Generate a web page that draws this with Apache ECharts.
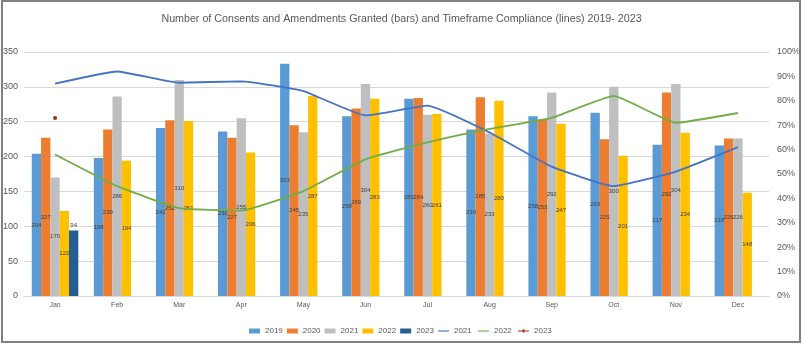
<!DOCTYPE html>
<html>
<head>
<meta charset="utf-8">
<script src="https://cdn.jsdelivr.net/npm/echarts@6/dist/echarts.min.js"></script>
<style>
  html, body { margin: 0; padding: 0; background: #fff; }
  #chart { width: 803px; height: 348px; }
</style>
</head>
<body>
<div id="chart"></div>
<script>
// Monthly categories
const months = ['Jan', 'Feb', 'Mar', 'Apr', 'May', 'Jun', 'Jul', 'Aug', 'Sep', 'Oct', 'Nov', 'Dec'];

// Consents and amendments granted per month (bars)
const granted2019 = [204, 198, 241, 236, 333, 258, 283, 239, 258, 263, 217, 216];
const granted2020 = [227, 239, 252, 227, 245, 269, 284, 285, 253, 225, 292, 226];
const granted2021 = [170, 286, 310, 255, 235, 304, 260, 233, 292, 300, 304, 226];
const granted2022 = [122, 194, 251, 206, 287, 283, 261, 280, 247, 201, 234, 148];
const granted2023 = [94, null, null, null, null, null, null, null, null, null, null, null];

// Timeframe compliance, percent (lines)
const compliance2021 = [87, 92, 87.4, 88, 84, 74, 78, 67, 53, 45, 51, 61];
const compliance2022 = [58, 45, 36, 35, 43, 56, 63, 68.5, 73, 82, 71, 75];
const compliance2023 = [73, null, null, null, null, null, null, null, null, null, null, null];

// Axis ticks
const countTicks = { min: 0, max: 350, interval: 50 };
const percentTicks = { min: 0, max: 100, interval: 10 };

const textColor = '#595959';
const gridColor = '#d9d9d9';

function barSeries(name, data, color, labelPos) {
  return {
    name: name,
    type: 'bar',
    data: data,
    yAxisIndex: 0,
    barGap: '0%',
    barCategoryGap: '25%',
    itemStyle: { color: color },
    label: {
      show: true,
      position: labelPos,
      fontSize: 6,
      color: '#404040',
      fontFamily: 'Liberation Sans',
      distance: 2
    }
  };
}

function lineSeries(name, data, color, withMarker) {
  return {
    name: name,
    type: 'line',
    data: data,
    yAxisIndex: 1,
    smooth: 0.12,
    symbol: withMarker ? 'circle' : 'none',
    symbolSize: 4,
    showSymbol: withMarker,
    lineStyle: { color: color, width: 1.8 },
    itemStyle: { color: color },
    z: 5
  };
}

const chart = echarts.init(document.getElementById('chart'), null, { renderer: 'canvas' });

chart.setOption({
  animation: false,
  backgroundColor: '#fff',
  textStyle: { fontFamily: 'Liberation Sans' },
  title: {
    text: 'Number of Consents and Amendments Granted (bars) and Timeframe Compliance (lines) 2019- 2023',
    left: 'center',
    top: 9,
    textStyle: { fontSize: 10.7, fontWeight: 'normal', color: textColor, fontFamily: 'Liberation Sans' }
  },
  legend: {
    bottom: 8,
    left: 'center',
    itemWidth: 11,
    itemHeight: 5,
    itemGap: 4,
    textStyle: { fontSize: 8, color: textColor },
    data: [
      { name: '2019', icon: 'rect' },
      { name: '2020', icon: 'rect' },
      { name: '2021', icon: 'rect' },
      { name: '2022', icon: 'rect' },
      { name: '2023', icon: 'rect' },
      { name: '2021 ', icon: 'path://M0,4 L20,4 L20,6 L0,6 Z' },
      { name: '2022 ', icon: 'path://M0,4 L20,4 L20,6 L0,6 Z' },
      { name: '2023 ', icon: 'path://M0,4 L8,4 A2,2 0 1 1 12,4 L20,4 L20,6 L12,6 A2,2 0 1 1 8,6 L0,6 Z' }
    ]
  },
  grid: { left: 23, right: 31, top: 52, bottom: 52 },
  xAxis: {
    type: 'category',
    data: months,
    axisLine: { lineStyle: { color: gridColor } },
    axisTick: { show: false },
    axisLabel: { fontSize: 7, color: textColor, margin: 6 }
  },
  yAxis: [
    {
      type: 'value',
      min: countTicks.min,
      max: countTicks.max,
      interval: countTicks.interval,
      axisLine: { show: false },
      axisTick: { show: false },
      axisLabel: { fontSize: 9, color: textColor, margin: 6 },
      splitLine: { lineStyle: { color: gridColor } }
    },
    {
      type: 'value',
      min: percentTicks.min,
      max: percentTicks.max,
      interval: percentTicks.interval,
      axisLine: { show: false },
      axisTick: { show: false },
      axisLabel: { fontSize: 9, color: textColor, margin: 8, formatter: '{value}%' },
      splitLine: { show: false }
    }
  ],
  series: [
    barSeries('2019', granted2019, '#5b9bd5', 'inside'),
    barSeries('2020', granted2020, '#ed7d31', 'inside'),
    barSeries('2021', granted2021, '#bfbfbf', 'inside'),
    barSeries('2022', granted2022, '#ffc000', 'inside'),
    barSeries('2023', granted2023, '#255e91', 'top'),
    lineSeries('2021 ', compliance2021, '#4472c4', false),
    lineSeries('2022 ', compliance2022, '#70ad47', false),
    lineSeries('2023 ', compliance2023, '#a5300f', true)
  ],
  graphic: [
    {
      type: 'rect',
      shape: { x: 2, y: 1, width: 798, height: 341 },
      style: { fill: 'none', stroke: '#808080', lineWidth: 2 },
      silent: true
    }
  ]
});
</script>
</body>
</html>
